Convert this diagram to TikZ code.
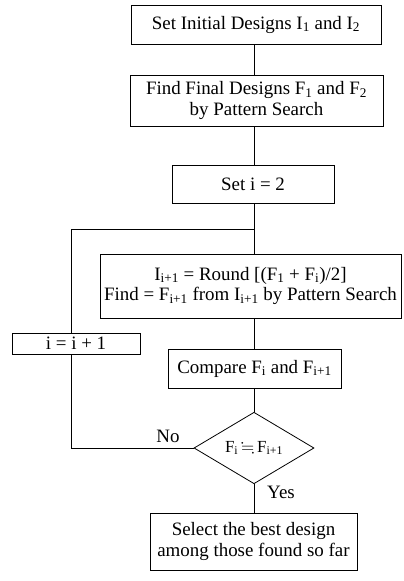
\documentclass[tikz,border=0pt]{standalone}
\usepackage{amssymb}
\usepackage{fontspec}
\setmainfont{Liberation Serif}
\usetikzlibrary{shapes.geometric}
\begin{document}
\begin{tikzpicture}[x=1bp,y=-1bp,
  every node/.style={font=\fontsize{19}{21}\selectfont},
  box/.style={draw,rectangle,line width=0.8bp,inner sep=0pt,align=center},
  dia/.style={draw,diamond,line width=0.8bp,inner sep=0pt},
  conn/.style={line width=0.8bp},
  lbl/.style={inner sep=0pt}]
\useasboundingbox (0,0) rectangle (403,581);
\node[box,minimum width=250bp,minimum height=39bp] (b1) at (256,24.5) {Set Initial Designs I\textsubscript{1} and I\textsubscript{2}};
\node[box,minimum width=253bp,minimum height=51bp] (b2) at (256.5,100.5) {Find Final Designs F\textsubscript{1} and F\textsubscript{2}\\by Pattern Search};
\node[box,minimum width=162bp,minimum height=38bp] (b3) at (253,184) {Set i = 2};
\node[box,minimum width=301bp,minimum height=64bp] (b4) at (250.5,286) {I\textsubscript{i+1} = Round [(F\textsubscript{1} + F\textsubscript{i})/2]\\Find = F\textsubscript{i+1} from I\textsubscript{i+1} by Pattern Search};
\node[box,minimum width=128bp,minimum height=21bp] (inc) at (76,343.5) {i = i + 1};
\node[box,minimum width=173bp,minimum height=39bp] (cmp) at (254.5,368.5) {Compare F\textsubscript{i} and F\textsubscript{i+1}};
\node[dia,minimum width=120bp,minimum height=66bp] (d) at (254,448) {\fontsize{17}{19}\selectfont F\textsubscript{i}\,$\fallingdotseq$\,F\textsubscript{i+1}};
\node[box,minimum width=207bp,minimum height=57bp] (fin) at (253.5,541.5) {Select the best design\\among those found so far};
\node[lbl] (no) at (168,436) {No};
\node[lbl] (yes) at (281,492) {Yes};
\coordinate (ax) at (254,0);
\coordinate (lp) at (71,229);
\draw[conn] (b1.south -| ax) -- (b2.north -| ax);
\draw[conn] (b2.south -| ax) -- (b3.north -| ax);
\draw[conn] (b3.south -| ax) -- (b4.north -| ax);
\draw[conn] (b4.south -| ax) -- (cmp.north -| ax);
\draw[conn] (cmp.south -| ax) -- (d.north);
\draw[conn] (d.south) -- (fin.north -| d.south);
\draw[conn] (d.west) -- (d.west -| lp) -- (inc.south -| lp);
\draw[conn] (inc.north -| lp) -- (lp) -- (lp -| ax);
\end{tikzpicture}
\end{document}
